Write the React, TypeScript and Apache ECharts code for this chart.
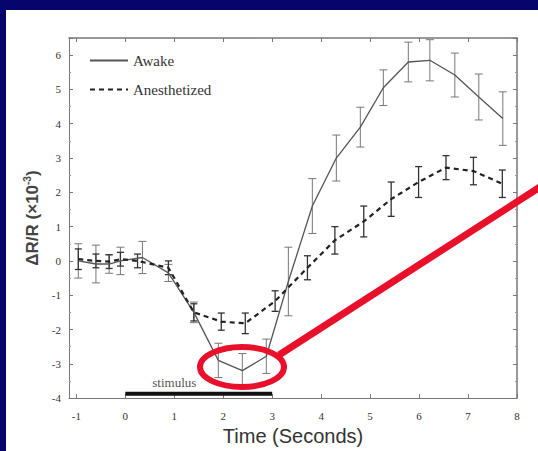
import React, { useEffect, useRef } from "react";
import * as echarts from "echarts";

// Awake (solid)
const awakeT = [-0.96, -0.6, -0.33, -0.1, 0.35, 0.88, 1.4, 1.9, 2.39, 2.88, 3.33, 3.82, 4.31, 4.8, 5.27, 5.78, 6.22, 6.73, 7.22, 7.71];
const awakeV = [0.0, -0.09, -0.09, 0.0, 0.1, -0.35, -1.5, -2.9, -3.2, -2.78, -0.6, 1.6, 3.0, 3.9, 5.05, 5.8, 5.85, 5.42, 4.78, 4.15];
const awakeErr = [0.5, 0.55, 0.27, 0.4, 0.47, 0.25, 0.3, 0.5, 0.5, 0.5, 1.0, 0.8, 0.67, 0.58, 0.52, 0.58, 0.6, 0.64, 0.67, 0.78];

// Anesthetized (dashed)
const anesT = [-0.96, -0.6, -0.33, -0.1, 0.25, 0.88, 1.4, 1.96, 2.45, 3.06, 3.72, 4.28, 4.87, 5.43, 5.99, 6.55, 7.11, 7.7];
const anesV = [0.05, 0.0, -0.02, 0.05, 0.0, -0.2, -1.5, -1.77, -1.82, -1.17, -0.2, 0.6, 1.15, 1.8, 2.3, 2.72, 2.62, 2.25];
const anesErr = [0.3, 0.2, 0.2, 0.2, 0.2, 0.2, 0.25, 0.25, 0.3, 0.3, 0.35, 0.4, 0.45, 0.5, 0.45, 0.35, 0.4, 0.4];

const stimulusStart = 0;
const stimulusEnd = 3;
const stimulusLevel = -3.87;

const seriesNames = ["Awake", "Anesthetized"];

function errData(t: number[], v: number[], e: number[]) {
  return t.map((x, i) => [x, v[i] - e[i], v[i] + e[i]]);
}

function errSeries(data: number[][], color: string, width: number, cap: number) {
  return {
    type: "custom",
    silent: true,
    z: 3,
    data,
    encode: { x: 0, y: [1, 2] },
    renderItem: (params: any, api: any) => {
      const x = api.value(0);
      const lo = api.coord([x, api.value(1)]);
      const hi = api.coord([x, api.value(2)]);
      const style = { stroke: color, lineWidth: width };
      return {
        type: "group",
        children: [
          { type: "line", shape: { x1: lo[0], y1: lo[1], x2: hi[0], y2: hi[1] }, style },
          { type: "line", shape: { x1: lo[0] - cap, y1: lo[1], x2: lo[0] + cap, y2: lo[1] }, style },
          { type: "line", shape: { x1: hi[0] - cap, y1: hi[1], x2: hi[0] + cap, y2: hi[1] }, style },
        ],
      };
    },
  };
}

export default function App() {
  const ref = useRef<HTMLDivElement>(null);
  useEffect(() => {
    if (!ref.current) return;
    const chart = echarts.init(ref.current, undefined, { renderer: "svg" });
    const intLabel = (v: number) => (Math.abs(v - Math.round(v)) < 1e-6 ? String(Math.round(v)) : "");
    const tickLabelStyle = { fontFamily: "Liberation Serif", fontSize: 11, color: "#333" };
    const axisLineStyle = { color: "#777", width: 1 };
    chart.setOption({
      animation: false,
      backgroundColor: "transparent",
      grid: { left: 69, right: 21, top: 38, bottom: 51, show: false },
      legend: {
        data: seriesNames,
        orient: "vertical",
        left: 84,
        top: 48,
        itemWidth: 38,
        itemHeight: 14,
        itemGap: 14,
        itemStyle: { opacity: 0 },
        textStyle: { fontFamily: "Liberation Serif", fontSize: 15, color: "#333" },
        selectedMode: false,
      },
      xAxis: [
        {
          type: "value",
          min: -1.15,
          max: 8,
          splitNumber: 9,
          name: "Time (Seconds)",
          nameLocation: "middle",
          nameGap: 27,
          nameTextStyle: { fontFamily: "Liberation Sans", fontSize: 20, color: "#333" },
          axisLine: { show: true, onZero: false, lineStyle: axisLineStyle },
          axisTick: { show: true, inside: true, length: 4, lineStyle: { color: "#777" } },
          axisLabel: { formatter: intLabel, margin: 12, ...tickLabelStyle, showMinLabel: false },
          splitLine: { show: false },
        },
        {
          type: "value",
          position: "top",
          min: -1.15,
          max: 8,
          splitNumber: 9,
          axisLine: { show: true, onZero: false, lineStyle: { color: "#777", width: 1.5 } },
          axisTick: { show: true, inside: true, length: 4, lineStyle: { color: "#777" } },
          axisLabel: { show: false },
          splitLine: { show: false },
        },
      ],
      yAxis: [
        {
          type: "value",
          min: -4,
          max: 6.5,
          interval: 1,
          name: "{n|ΔR/R (×10}{s|-3}{n|)}",
          nameLocation: "middle",
          nameGap: 26,
          nameRotate: 90,
          nameTextStyle: {
            rich: {
              n: { fontFamily: "Liberation Sans", fontSize: 17, fontWeight: "bold", color: "#444" },
              s: { fontFamily: "Liberation Sans", fontSize: 10, fontWeight: "bold", color: "#444", padding: [0, 0, 10, 0] },
            },
          },
          axisLine: { show: true, onZero: false, lineStyle: axisLineStyle },
          axisTick: { show: true, inside: true, length: 4, lineStyle: { color: "#777" } },
          minorTick: { show: true, splitNumber: 2, length: 2, lineStyle: { color: "#999" } },
          axisLabel: { formatter: intLabel, margin: 8, ...tickLabelStyle },
          splitLine: { show: false },
        },
        {
          type: "value",
          position: "right",
          min: -4,
          max: 6.5,
          interval: 1,
          axisLine: { show: true, onZero: false, lineStyle: { color: "#777", width: 1.5 } },
          axisTick: { show: true, inside: true, length: 4, lineStyle: { color: "#777" } },
          minorTick: { show: true, splitNumber: 2, length: 2, lineStyle: { color: "#999" } },
          axisLabel: { show: false },
          splitLine: { show: false },
        },
      ],
      series: [
        {
          name: seriesNames[0],
          type: "line",
          data: awakeT.map((t, i) => [t, awakeV[i]]),
          showSymbol: false,
          symbol: "none",
          lineStyle: { color: "#555", width: 1.3 },
          itemStyle: { color: "#555" },
          z: 4,
        },
        {
          name: seriesNames[1],
          type: "line",
          data: anesT.map((t, i) => [t, anesV[i]]),
          showSymbol: false,
          symbol: "none",
          lineStyle: { color: "#222", width: 2.2, type: [5, 4] },
          itemStyle: { color: "#222" },
          z: 4,
        },
        errSeries(errData(awakeT, awakeV, awakeErr), "#777", 1, 4),
        errSeries(errData(anesT, anesV, anesErr), "#333", 1.3, 3.5),
        {
          type: "line",
          silent: true,
          data: [[stimulusStart, stimulusLevel], [stimulusEnd, stimulusLevel]],
          symbol: "none",
          lineStyle: { color: "#111", width: 4 },
          z: 5,
        },
        {
          type: "scatter",
          silent: true,
          symbolSize: 1,
          itemStyle: { color: "transparent" },
          data: [[(stimulusStart + stimulusEnd) / 3, stimulusLevel]],
          label: {
            show: true,
            position: "top",
            distance: 4,
            formatter: "stimulus",
            fontFamily: "Liberation Serif",
            fontSize: 13,
            color: "#222",
          },
        },
      ],
      graphic: [
        {
          type: "ellipse",
          shape: { cx: 242, cy: 367, rx: 42, ry: 20 },
          style: { fill: "none", stroke: "#e8102a", lineWidth: 6 },
          z: 100,
        },
        {
          type: "line",
          shape: { x1: 279, y1: 355, x2: 540, y2: 187 },
          style: { stroke: "#e8102a", lineWidth: 7 },
          z: 100,
        },
      ],
    });
    return () => chart.dispose();
  }, []);
  return (
    <div style={{ position: "fixed", left: 0, top: 0, width: 538, height: 451, background: "#05056b", overflow: "hidden" }}>
      <div style={{ position: "absolute", left: 6, top: 10, width: 532, height: 441, background: "#fff" }} />
      <div ref={ref} style={{ position: "absolute", left: 0, top: 0, width: 538, height: 451 }} />
    </div>
  );
}
